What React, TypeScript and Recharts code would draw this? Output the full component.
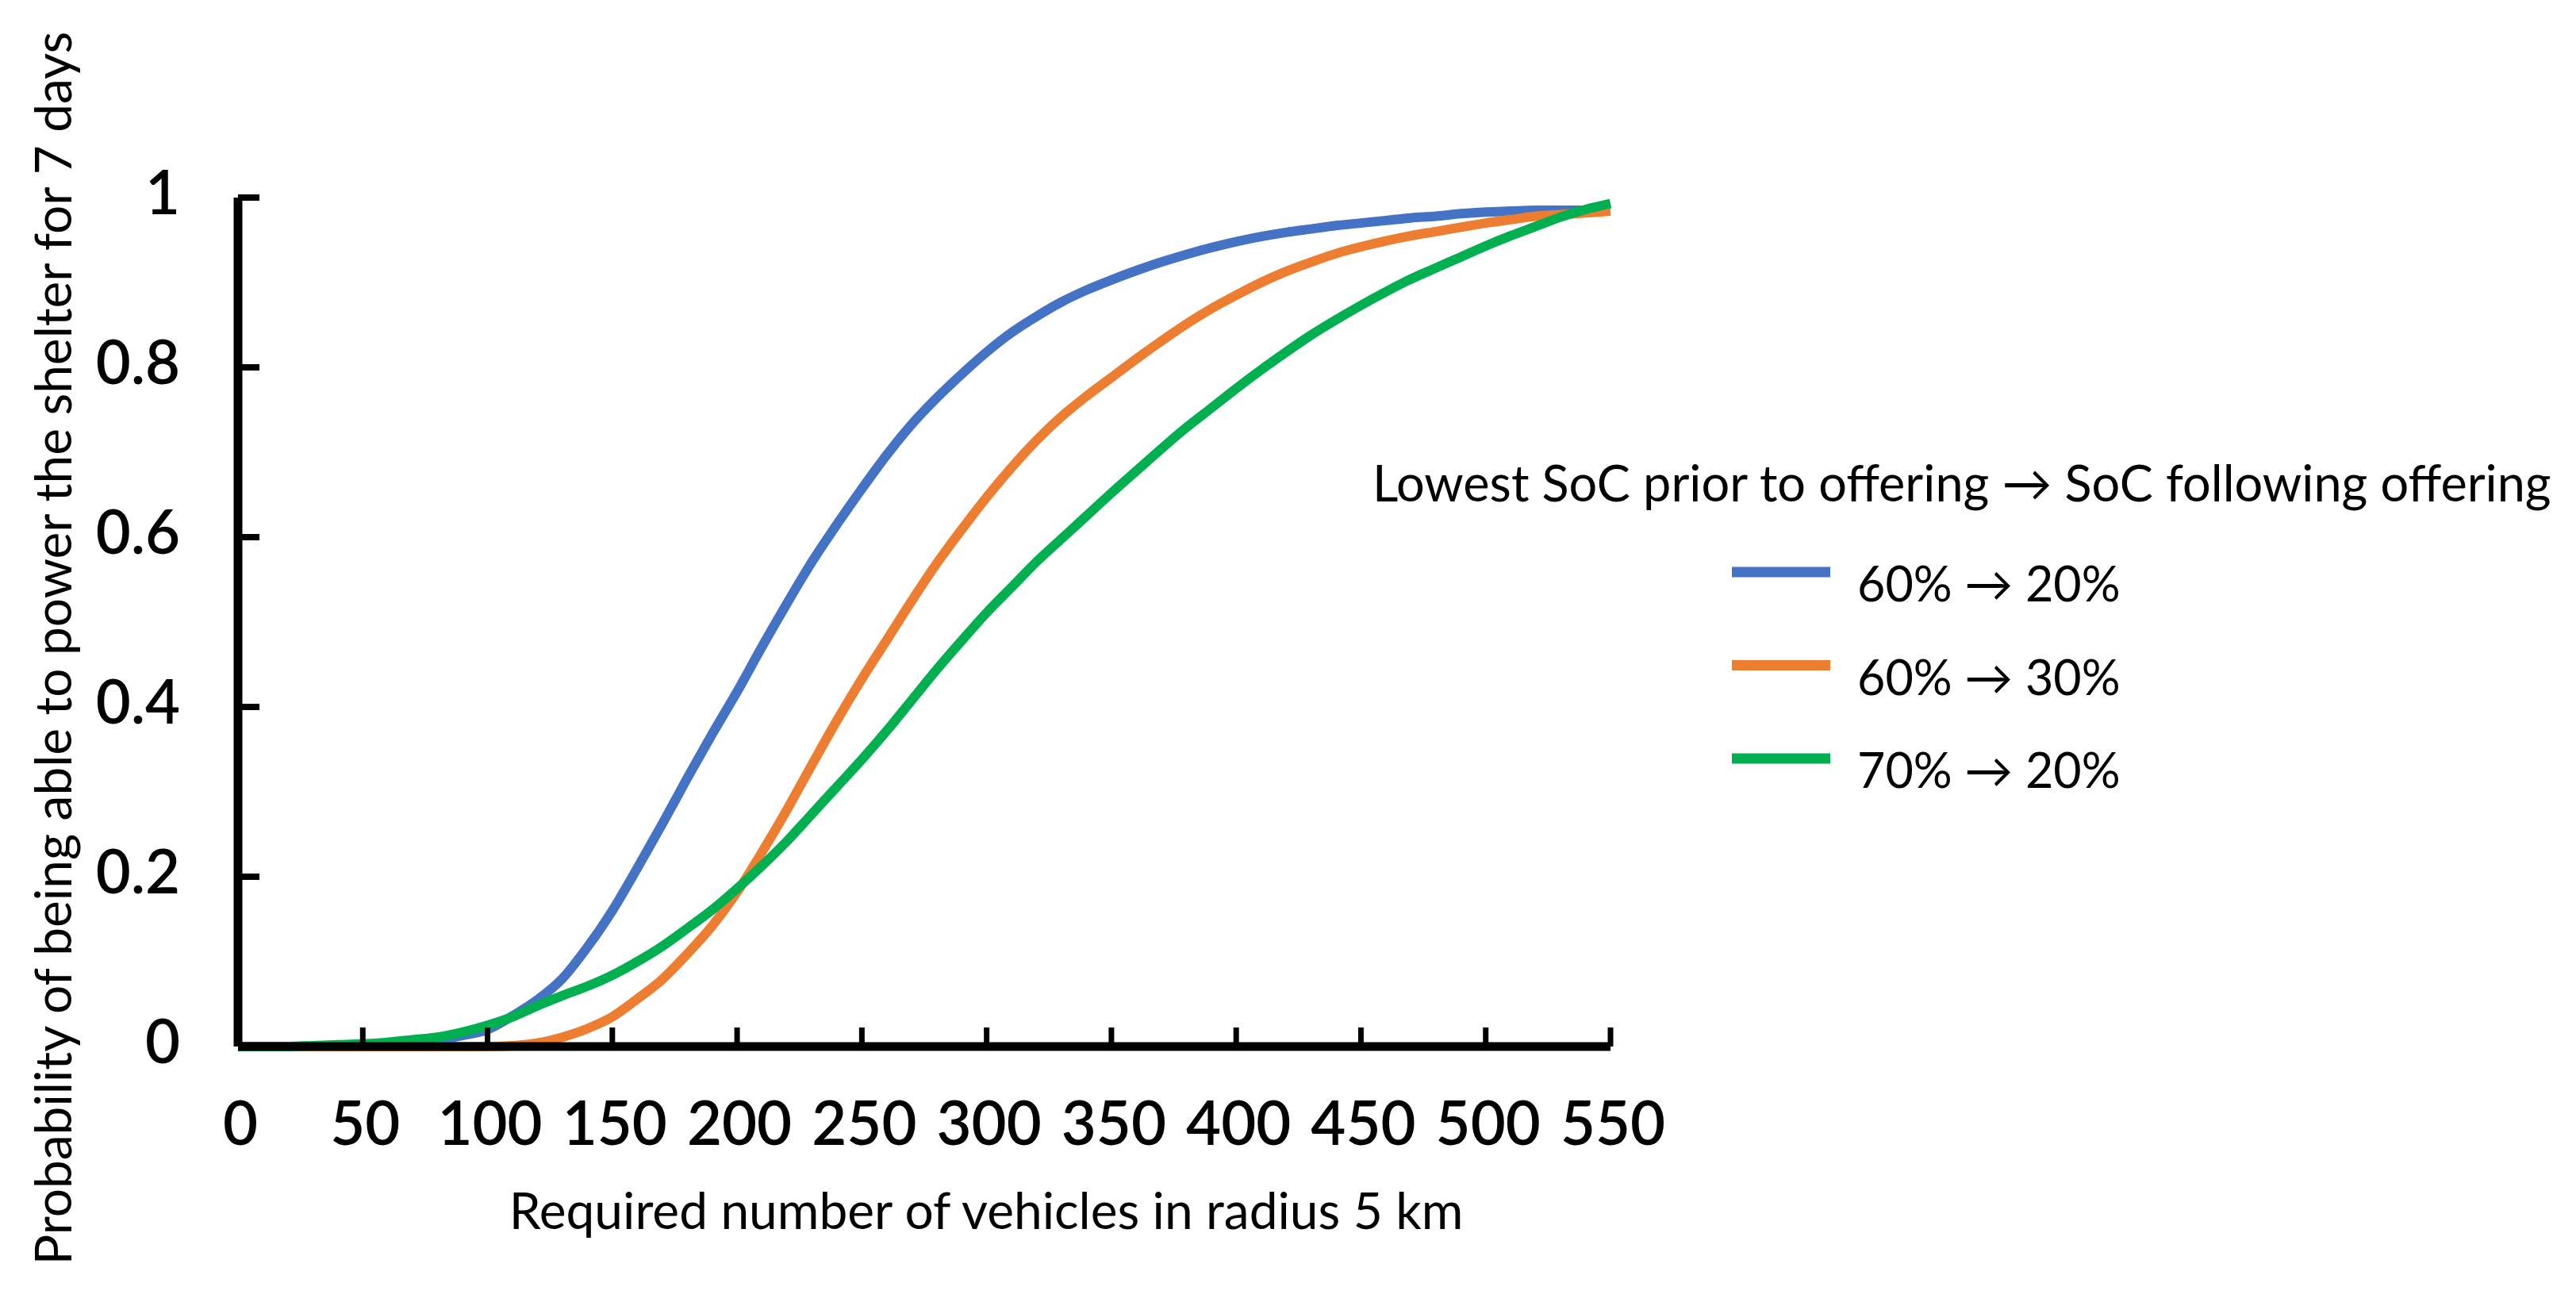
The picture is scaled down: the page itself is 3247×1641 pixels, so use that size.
import React from "react";
import { LineChart, Line, XAxis, YAxis, Legend } from "recharts";

const xValues = [0,10,20,30,40,50,60,70,80,90,100,110,120,130,140,150,160,170,180,190,200,210,220,230,240,250,260,270,280,290,300,310,320,330,340,350,360,370,380,390,400,410,420,430,440,450,460,470,480,490,500,510,520,530,540,550];

const soc60to20 = [0,0,0,0,0.001,0.002,0.003,0.005,0.008,0.013,0.02,0.036,0.055,0.08,0.117,0.16,0.21,0.262,0.316,0.368,0.418,0.471,0.522,0.571,0.615,0.657,0.697,0.733,0.764,0.792,0.818,0.841,0.86,0.877,0.891,0.903,0.914,0.924,0.933,0.941,0.948,0.954,0.959,0.963,0.967,0.97,0.973,0.976,0.978,0.981,0.983,0.984,0.985,0.985,0.985,0.985];

const soc60to30 = [0,0,0,0,0,0,0,0,0,0,0,0.001,0.004,0.011,0.021,0.035,0.056,0.079,0.109,0.142,0.182,0.229,0.279,0.332,0.384,0.433,0.479,0.525,0.569,0.609,0.647,0.682,0.714,0.742,0.766,0.788,0.81,0.831,0.851,0.869,0.885,0.9,0.913,0.924,0.934,0.942,0.949,0.955,0.96,0.965,0.97,0.974,0.978,0.98,0.982,0.984];

const soc70to20 = [0,0,0,0.001,0.002,0.003,0.005,0.008,0.011,0.017,0.025,0.035,0.048,0.06,0.071,0.084,0.1,0.118,0.139,0.161,0.186,0.213,0.242,0.274,0.306,0.338,0.372,0.408,0.444,0.478,0.511,0.541,0.571,0.598,0.625,0.652,0.678,0.704,0.729,0.752,0.775,0.797,0.818,0.838,0.856,0.873,0.889,0.904,0.917,0.93,0.943,0.955,0.966,0.977,0.986,0.993];

const xTicks = [0,50,100,150,200,250,300,350,400,450,500,550];
const yTicks = [0,0.2,0.4,0.6,0.8,1];
const yTickLabels = ["0","0.2","0.4","0.6","0.8","1"];

const seriesNames = ["60% → 20%", "60% → 30%", "70% → 20%"];
const seriesKeys = ["a", "b", "c"];
const seriesColors = ["#4472C4", "#ED7D31", "#00B050"];

const legendTitle = "Lowest SoC prior to offering → SoC following offering";
const xTitle = "Required number of vehicles in radius 5 km";
const yTitle = "Probability of being able to power the shelter for 7 days";

const data = xValues.map((x, i) => ({
  x,
  a: soc60to20[i],
  b: soc60to30[i],
  c: soc70to20[i],
}));

const FONT = "Lato, 'Open Sans', sans-serif";

const YTick = (props: any) => {
  const { x, y, payload } = props;
  const idx = yTicks.indexOf(payload.value);
  const label = idx >= 0 ? yTickLabels[idx] : String(payload.value);
  return (
    <g>
      <line x1={x} y1={y} x2={x + 27} y2={y} stroke="#000" strokeWidth={8} />
      <text x={x - 73} y={y + 21} textAnchor="end" fontSize={76} fontWeight={600} fontFamily={FONT} fill="#000">
        {label}
      </text>
    </g>
  );
};

const XTick = (props: any) => {
  const { x, y, payload } = props;
  return (
    <g>
      <line x1={x} y1={y} x2={x} y2={y - 24} stroke="#000" strokeWidth={7} />
      <text x={x + 3} y={y + 124} textAnchor="middle" fontSize={76} fontWeight={600} fontFamily={FONT} fill="#000">
        {String(payload.value)}
      </text>
    </g>
  );
};

const YLabel = (props: any) => {
  const vb = props.viewBox || { x: 0, y: 0, width: 0, height: 0 };
  const cx = vb.x + 57;
  const cy = vb.y + vb.height / 2 + 33;
  return (
    <text
      x={cx}
      y={cy}
      transform={`rotate(-90, ${cx}, ${cy})`}
      textAnchor="middle"
      dominantBaseline="central"
      fontSize={64}
      fontFamily={FONT}
      fill="#000"
    >
      {yTitle}
    </text>
  );
};

const XLabel = (props: any) => {
  const vb = props.viewBox || { x: 0, y: 0, width: 0, height: 0 };
  return (
    <text
      x={vb.x + vb.width / 2 + 78}
      y={vb.y + 230}
      textAnchor="middle"
      fontSize={64}
      fontFamily={FONT}
      fill="#000"
    >
      {xTitle}
    </text>
  );
};

const LegendContent = () => (
  <svg width={1531} height={520} style={{ display: "block", overflow: "visible" }}>
    <text x={22} y={104} fontSize={63} fontFamily={FONT} fill="#000">
      {legendTitle}
    </text>
    {seriesNames.map((name, i) => (
      <g key={name}>
        <line
          x1={475}
          x2={599}
          y1={193 + i * 117.5}
          y2={193 + i * 117.5}
          stroke={seriesColors[i]}
          strokeWidth={13}
        />
        <text x={633} y={230 + i * 117.5} fontSize={61} fontFamily={FONT} fill="#000">
          {name}
        </text>
      </g>
    ))}
  </svg>
);

export default function App() {
  return (
    <div style={{ width: 3231, height: 1625, background: "#fff", position: "relative" }}>
      <LineChart
        width={3231}
        height={1625}
        data={data}
        margin={{ top: 241, right: 1209, bottom: 113, left: 0 }}
      >
        <XAxis
          dataKey="x"
          type="number"
          domain={[0, 550]}
          ticks={xTicks}
          interval={0}
          height={200}
          tickSize={0}
          tickMargin={0}
          tickLine={false}
          axisLine={{ stroke: "#000", strokeWidth: 11 }}
          tick={<XTick />}
          label={<XLabel />}
        />
        <YAxis
          type="number"
          domain={[0, 1]}
          ticks={yTicks}
          interval={0}
          width={292}
          tickSize={0}
          tickMargin={0}
          tickLine={false}
          axisLine={{ stroke: "#000", strokeWidth: 11 }}
          tick={<YTick />}
          label={<YLabel />}
        />
        <Legend
          content={<LegendContent />}
          wrapperStyle={{ position: "absolute", left: 1700, top: 520, width: 1, height: 1, overflow: "visible" }}
        />
        {seriesKeys.map((k, i) => (
          <Line
            key={k}
            type="monotone"
            dataKey={k}
            name={seriesNames[i]}
            stroke={seriesColors[i]}
            strokeWidth={12}
            dot={false}
            activeDot={false}
            isAnimationActive={false}
          />
        ))}
      </LineChart>
    </div>
  );
}
